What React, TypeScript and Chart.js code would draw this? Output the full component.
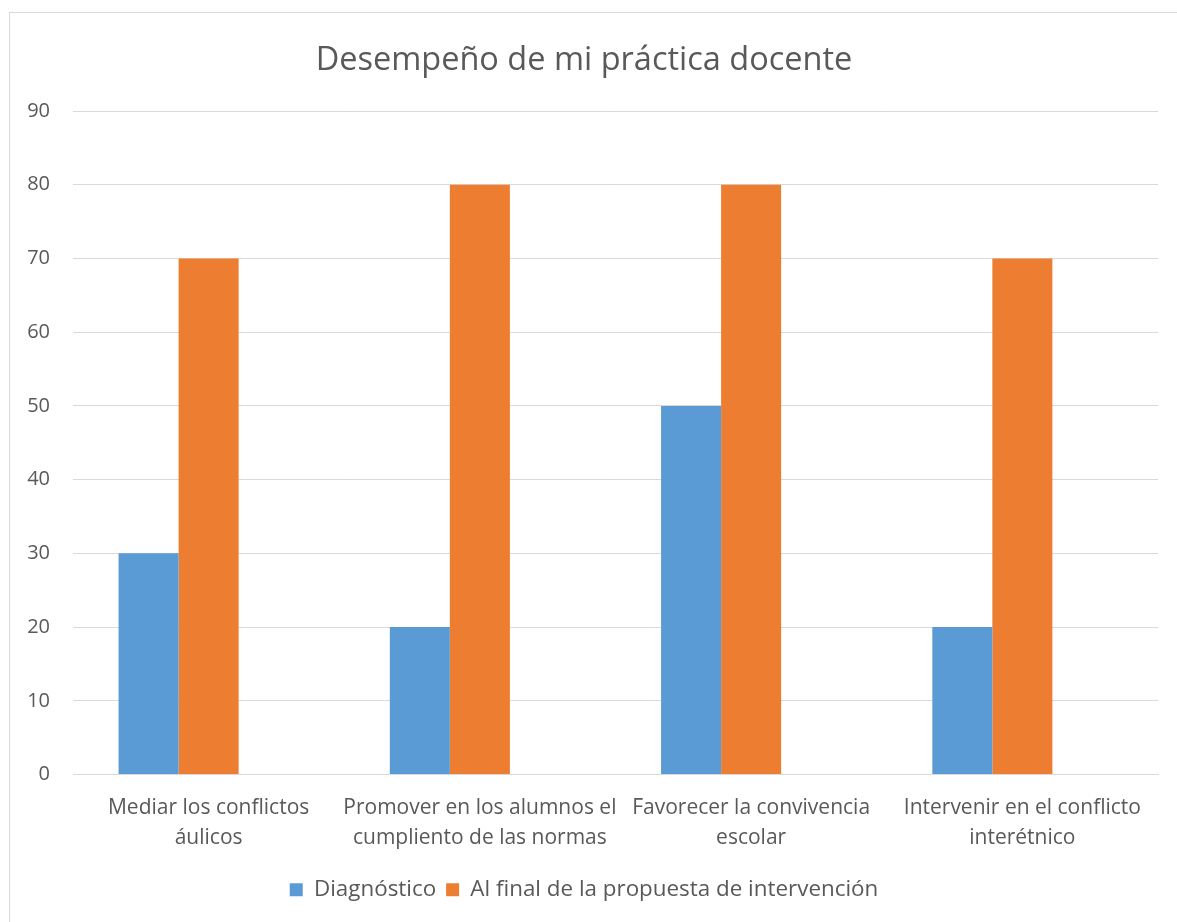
import React, { useEffect, useRef } from "react";
import { Chart, registerables } from "chart.js";
Chart.register(...registerables);

const titleText = "Desempeño de mi práctica docente";
const categories: string[][] = [
  ["Mediar los conflictos", "áulicos"],
  ["Promover en los alumnos el", "cumpliento de las normas"],
  ["Favorecer la convivencia", "escolar"],
  ["Intervenir en el conflicto", "interétnico"],
];
const seriesNames = ["Diagnóstico", "Al final de la propuesta de intervención", "Serie 3"];
const diagnostico = [30, 20, 50, 20];
const alFinal = [70, 80, 80, 70];
const serie3: (number | null)[] = [null, null, null, null];
const yMin = 0;
const yMax = 90;
const yStep = 10;

const FONT = "'Open Sans', 'DejaVu Sans', sans-serif";
const TEXT = "#595959";
const GRID = "#d9d9d9";

export default function App() {
  const ref = useRef<HTMLCanvasElement>(null);
  useEffect(() => {
    if (!ref.current) return;
    const chart = new Chart(ref.current, {
      type: "bar",
      data: {
        labels: categories,
        datasets: [
          { label: seriesNames[0], data: diagnostico, backgroundColor: "#5b9bd5", borderWidth: 0 },
          { label: seriesNames[1], data: alFinal, backgroundColor: "#ed7d31", borderWidth: 0 },
          { label: seriesNames[2], data: serie3, backgroundColor: "#a5a5a5", borderWidth: 0 },
        ],
      },
      options: {
        responsive: false,
        animation: false,
        devicePixelRatio: 1,
        layout: { padding: { left: 0, right: 20, top: 0, bottom: 12 } },
        datasets: { bar: { barPercentage: 1, categoryPercentage: 0.664 } },
        plugins: {
          title: {
            display: true,
            text: titleText,
            color: TEXT,
            font: { family: FONT, size: 32.5, weight: "normal", lineHeight: 1.2 },
            padding: { top: 28, bottom: 31 },
          },
          legend: {
            position: "bottom",
            labels: {
              color: TEXT,
              font: { family: FONT, size: 22.4 },
              boxWidth: 13,
              boxHeight: 13,
              padding: 10,
              filter: (item) => item.datasetIndex !== 2,
            },
          },
          tooltip: { enabled: false },
        },
        scales: {
          x: {
            grid: { display: false, drawTicks: false },
            border: { display: true, color: GRID, width: 1 },
            ticks: {
              color: TEXT,
              font: { family: FONT, size: 21, lineHeight: 1.43 },
              padding: 18,
              maxRotation: 0,
              autoSkip: false,
            },
            afterFit: (scale: any) => {
              scale.height -= 2;
            },
          },
          y: {
            min: yMin,
            max: yMax,
            grid: { color: GRID, drawTicks: false, lineWidth: 1 },
            border: { display: false },
            ticks: {
              stepSize: yStep,
              color: TEXT,
              font: { family: FONT, size: 20 },
              padding: 23,
            },
            afterFit: (scale: any) => {
              scale.width = 63;
            },
          },
        },
      },
    });
    return () => chart.destroy();
  }, []);
  return (
    <div
      style={{
        position: "absolute",
        left: 9,
        top: 12,
        width: 1170,
        height: 912,
        border: "1px solid #d9d9d9",
        boxSizing: "border-box",
        background: "#fff",
      }}
    >
      <canvas ref={ref} width={1168} height={910} style={{ display: "block" }} />
    </div>
  );
}
